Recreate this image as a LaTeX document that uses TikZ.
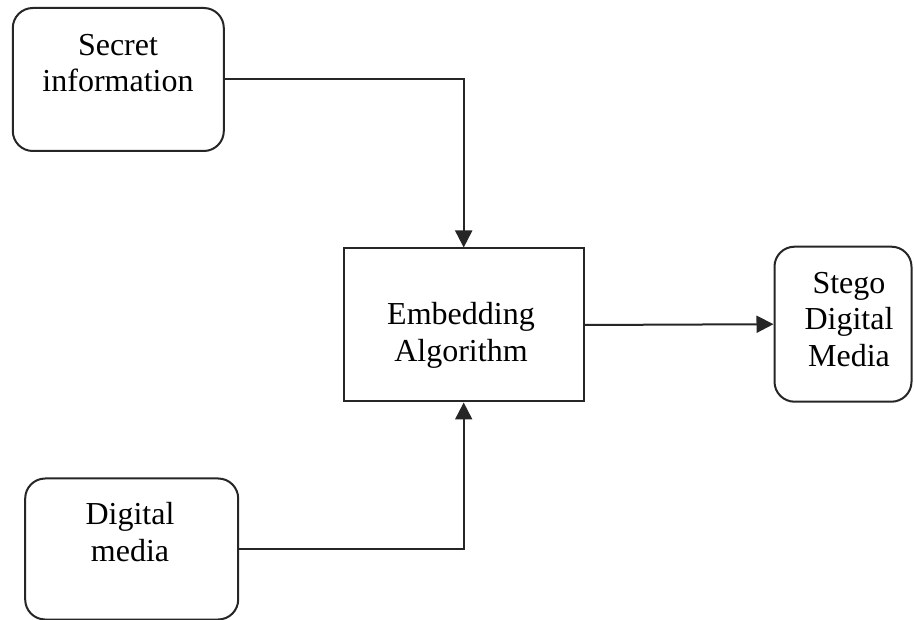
\documentclass[tikz,border=0pt]{standalone}
\usepackage{fontspec}
\setmainfont{Liberation Serif}
\usetikzlibrary{arrows.meta}
\begin{document}
\begin{tikzpicture}[x=1pt,y=-1pt,
  box/.style={draw=black!85,line width=2pt,inner sep=0pt},
  roundbox/.style={box,rounded corners=20pt},
  lbl/.style={align=center,anchor=base,inner sep=0pt,
    font=\fontsize{32}{36.5}\selectfont},
  flow/.style={draw=black!85,line width=2pt,-{Triangle[length=17pt,width=17pt]}}]
\useasboundingbox[fill=white] (0,0) rectangle (914,620);

% boxes
\node[roundbox,minimum width=211pt,minimum height=143pt] (secret) at (118.3,79.5) {};
\node[roundbox,minimum width=213pt,minimum height=141pt] (media) at (131.7,549) {};
\node[box,minimum width=240pt,minimum height=153pt] (embed) at (463.7,325) {};
\node[roundbox,minimum width=137pt,minimum height=155pt] (stego) at (843,324.2) {};

% labels (anchored at the baseline of the last line)
\node[lbl] (secrettext) at (118,92) {Secret\\information};
\node[lbl] (mediatext) at (130,561.5) {Digital\\media};
\node[lbl] (embedtext) at (461,361.5) {Embedding\\Algorithm};
\node[lbl] (stegotext) at (849,366.5) {Stego\\Digital\\Media};

% connectors
\draw[flow] (secret.east) -| (embed.north);
\draw[flow] (media.east) -| (embed.south);
\draw[flow] (embed.east) -- (stego.west);
\end{tikzpicture}
\end{document}
